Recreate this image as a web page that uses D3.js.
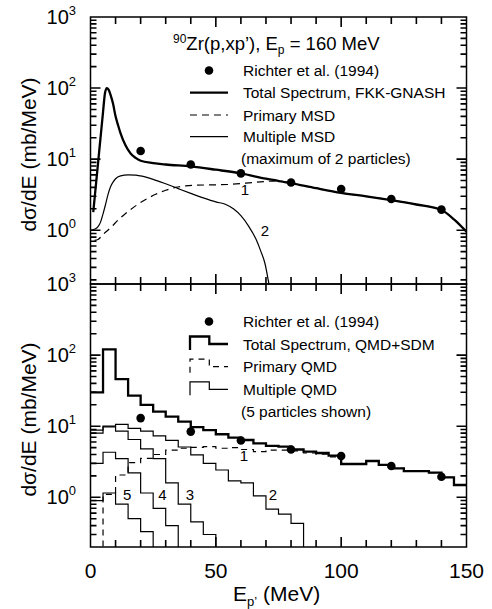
<!DOCTYPE html>
<html>
<head>
<meta charset="utf-8">
<script src="https://cdn.jsdelivr.net/npm/d3@7"></script>
<style>
body { margin: 0; background: #fff; }
text { font-family: "Liberation Sans", Arial, Helvetica, sans-serif; fill: #000; }
</style>
</head>
<body>
<div id="chart-area"></div>
<script>
// DATA (E in MeV, d-sigma/dE in mb/MeV)
var richterE = [20, 40, 60, 80, 100, 120, 140];
var richterXS = [13, 8.4, 6.3, 4.7, 3.8, 2.75, 1.95];

// upper panel: FKK-GNASH
var fkkTotalE = [1.1, 2, 3, 4, 5, 5.8, 6.5, 7.2, 8, 9, 10, 11, 12, 14, 16, 18, 20, 25, 30, 40, 50, 60, 70, 80, 90, 100, 110, 120, 130, 140, 145, 150];
var fkkTotal = [1.8, 3.8, 8.7, 20, 46, 86, 100, 95, 80, 60, 40, 30, 23, 15.5, 12, 10.4, 9.5, 8.8, 8.4, 7.9, 7.1, 6.3, 5.3, 4.6, 3.9, 3.35, 3.0, 2.65, 2.3, 1.92, 1.42, 0.95];

var fkkPrimaryE = [1.6, 3, 5, 8, 11, 14, 18, 22, 26, 30, 34, 38, 42, 50, 55, 62, 70, 75, 80, 90, 100, 110, 120, 130, 140, 145, 150];
var fkkPrimary = [0.72, 0.74, 0.87, 1.08, 1.39, 1.72, 2.2, 2.7, 3.2, 3.65, 4.0, 4.2, 4.3, 4.35, 4.4, 4.6, 4.85, 4.95, 4.6, 3.9, 3.35, 3.0, 2.65, 2.3, 1.92, 1.42, 0.95];

var fkkMultipleE = [0.3, 1.5, 3, 4, 5, 6, 7, 8, 9, 10, 12, 15, 18, 20, 25, 30, 35, 40, 45, 50, 54, 57, 60, 63, 66, 68, 69.6, 71, 72];
var fkkMultiple = [1.0, 1.03, 1.12, 1.3, 1.7, 2.3, 3.2, 4.1, 4.75, 5.3, 5.8, 6.0, 5.95, 5.8, 5.2, 4.5, 3.85, 3.3, 2.85, 2.5, 2.3, 2.0, 1.6, 1.15, 0.75, 0.5, 0.34, 0.19, 0.12];

// lower panel: QMD+SDM histograms, 5 MeV bins
var qmdBins = [0, 5, 10, 15, 20, 25, 30, 35, 40, 45, 50, 55, 60, 65, 70, 75, 80, 85, 90, 95, 100, 105, 110, 115, 120, 125, 130, 135, 140, 145];
var qmdTotal = [30, 120, 46, 27, 20, 16, 13.6, 11.6, 9.7, 8.8, 7.7, 6.9, 6.4, 5.75, 5.3, 5.15, 4.7, 4.4, 4.2, 3.85, 2.94, 2.94, 3.24, 2.85, 2.56, 2.34, 2.34, 2.22, 1.91, 1.49];
var qmdPrimary = [null, 1.1, 2.06, 3.07, 3.53, 4.0, 4.6, 4.9, 5.05, 5.15, 4.9, 5.0, 4.7, 4.4, 4.6, 4.6, 4.5, 4.2, 4.05, 3.7, 2.94, 2.94, 3.24, 2.85, 2.56, 2.34, 2.34, 2.22, 1.91, 1.49];
var qmdMult2 = [8, 10, 10.6, 9.3, 8.5, 7.3, 6.3, 5.1, 3.94, 3.0, 2.42, 1.7, 1.6, 1.05, 0.68, 0.58, 0.43];
var qmdMult3 = [8.8, 9.8, 8.5, 6.5, 4.8, 3.5, 1.6, 0.8, 0.45, 0.3];
var qmdMult4 = [3.0, 4.3, 3.5, 2.2, 1.15, 0.7, 0.4];
var qmdMult5 = [0.9, 1.15, 0.8, 0.5, 0.33];

// curve labels
var upperTags = [{ t: '1', e: 61.6, v: 3.75 }, { t: '2', e: 69.6, v: 1.0 }];
var lowerTags = [{ t: '1', e: 61.2, v: 3.9 }, { t: '2', e: 72.8, v: 1.1 }, { t: '3', e: 39.7, v: 1.08 },
                 { t: '4', e: 28.7, v: 1.08 }, { t: '5', e: 14.6, v: 1.08 }];

var xMinorTicks = [10, 20, 30, 40, 60, 70, 80, 90, 110, 120, 130, 140];
var xMajorTicks = [50, 100];
var xLabels = [0, 50, 100, 150];
var decades = [1, 10, 100, 1000];

//SETUP
var width = 376;
var upperHeight = 267;
var lowerHeight = 263;
var left = 90.5;
var upperTop = 17;
var lowerTop = 284;

var svg = d3.select('#chart-area')
	.append('svg')
	.attr('width', 492)
	.attr('height', 609);

var x = d3.scaleLinear().domain([0, 150]).range([0, width]);
var yUpper = d3.scaleLog().domain([0.175, 1000]).range([upperHeight, 0]);
var yLower = d3.scaleLog().domain([0.2, 1000]).range([lowerHeight, 0]);

var upper = svg.append('g').attr('transform', 'translate(' + left + ',' + upperTop + ')');
var lower = svg.append('g').attr('transform', 'translate(' + left + ',' + lowerTop + ')');

function minorLogTicks(y) {
	var out = [];
	var dom = y.domain();
	[0.1, 1, 10, 100].forEach(function (p) {
		for (var m = 2; m <= 9; m++) {
			var v = m * p;
			if (v > dom[0] * 1.01 && v < dom[1]) out.push(v);
		}
	});
	return out;
}

// inward ticks on all four sides as one path, in page coordinates
function tickPath(y, h, top) {
	var minor = minorLogTicks(y);
	var majors = decades.filter(function (d) { return d > y.domain()[0] && d < y.domain()[1]; });
	var p = d3.path();
	function seg(x1, y1, x2, y2) {
		p.moveTo(left + x1, top + y1);
		p.lineTo(left + x2, top + y2);
	}
	minor.forEach(function (v) { seg(0, y(v), 6, y(v)); seg(width, y(v), width - 6, y(v)); });
	majors.forEach(function (v) { seg(0, y(v), 10, y(v)); seg(width, y(v), width - 10, y(v)); });
	xMinorTicks.forEach(function (v) { seg(x(v), 0, x(v), 7); seg(x(v), h, x(v), h - 7); });
	xMajorTicks.forEach(function (v) { seg(x(v), 0, x(v), 10); seg(x(v), h, x(v), h - 10); });
	return p.toString();
}

function drawFrame(g, y, h, id) {
	g.append('clipPath').attr('id', id).append('rect').attr('width', width).attr('height', h);

	// decade labels 10^n
	decades.filter(function (d) { return d >= y.domain()[0]; }).forEach(function (d) {
		var t = g.append('text')
			.attr('x', 76 - left)
			.attr('y', y(d) + 7)
			.attr('text-anchor', 'end');
		t.append('tspan').attr('font-size', '20px').text('10');
		t.append('tspan').attr('font-size', '13px').attr('dy', -9).text(Math.round(Math.log10(d)));
	});

	// y title
	g.append('text')
		.attr('transform', 'translate(' + (35.5 - left) + ',' + (h / 2 + 4) + ') rotate(-90)')
		.attr('text-anchor', 'middle')
		.attr('font-size', '21px')
		.text('d\u03c3/dE (mb/MeV)');
}

drawFrame(upper, yUpper, upperHeight, 'clipUpper');
drawFrame(lower, yLower, lowerHeight, 'clipLower');

//UPPER PANEL CURVES
function pairs(es, vs) {
	return es.map(function (e, i) { return [e, vs[i]]; });
}

var smooth = d3.line()
	.x(function (d) { return x(d[0]); })
	.y(function (d) { return yUpper(d[1]); })
	.curve(d3.curveMonotoneX);

var upperPlot = upper.append('g').attr('clip-path', 'url(#clipUpper)');

upperPlot.append('path')
	.attr('d', smooth(pairs(fkkPrimaryE, fkkPrimary)))
	.attr('fill', 'none').attr('stroke', '#000').attr('stroke-width', 1.2)
	.attr('stroke-dasharray', '7,5');

upperPlot.append('path')
	.attr('d', smooth(pairs(fkkMultipleE, fkkMultiple)))
	.attr('fill', 'none').attr('stroke', '#000').attr('stroke-width', 1.2);

upperPlot.append('path')
	.attr('d', smooth(pairs(fkkTotalE, fkkTotal)))
	.attr('fill', 'none').attr('stroke', '#000').attr('stroke-width', 2.3);

upper.selectAll('circle.dot')
	.data(pairs(richterE, richterXS))
	.enter().append('circle')
	.attr('class', 'dot')
	.attr('cx', function (d) { return x(d[0]); })
	.attr('cy', function (d) { return yUpper(d[1]); })
	.attr('r', 4.3)
	.attr('fill', '#000');

upper.selectAll('text.tag')
	.data(upperTags)
	.enter().append('text')
	.attr('class', 'tag')
	.attr('x', function (d) { return x(d.e); })
	.attr('y', function (d) { return yUpper(d.v) + 5.5; })
	.attr('text-anchor', 'middle')
	.attr('font-size', '15px')
	.text(function (d) { return d.t; });

//LOWER PANEL HISTOGRAMS
function steps(vals) {
	var pts = vals.map(function (v, i) { return [qmdBins[i], v]; });
	if (vals.length === qmdBins.length) pts.push([150, vals[vals.length - 1]]);
	else pts.push([qmdBins[vals.length], null]);
	return pts;
}

var stepLine = d3.line()
	.x(function (d) { return x(d[0]); })
	.y(function (d) { return d[1] == null ? lowerHeight + 20 : yLower(d[1]); })
	.curve(d3.curveStepAfter);

var lowerPlot = lower.append('g').attr('clip-path', 'url(#clipLower)');

[qmdMult2, qmdMult3, qmdMult4, qmdMult5].forEach(function (s) {
	lowerPlot.append('path')
		.attr('d', stepLine(steps(s)))
		.attr('fill', 'none').attr('stroke', '#000').attr('stroke-width', 1.2);
});

lowerPlot.append('path')
	.attr('d', stepLine(steps(qmdPrimary)))
	.attr('fill', 'none').attr('stroke', '#000').attr('stroke-width', 1.2)
	.attr('stroke-dasharray', '6,5');

lowerPlot.append('path')
	.attr('d', stepLine(steps(qmdTotal)))
	.attr('fill', 'none').attr('stroke', '#000').attr('stroke-width', 2.3);

lower.selectAll('circle.dot')
	.data(pairs(richterE, richterXS))
	.enter().append('circle')
	.attr('class', 'dot')
	.attr('cx', function (d) { return x(d[0]); })
	.attr('cy', function (d) { return yLower(d[1]); })
	.attr('r', 4.3)
	.attr('fill', '#000');

lower.selectAll('text.tag')
	.data(lowerTags)
	.enter().append('text')
	.attr('class', 'tag')
	.attr('x', function (d) { return x(d.e); })
	.attr('y', function (d) { return yLower(d.v) + 5.5; })
	.attr('text-anchor', 'middle')
	.attr('font-size', '15px')
	.text(function (d) { return d.t; });

//FRAMES
[[upper, upperHeight], [lower, lowerHeight]].forEach(function (p) {
	p[0].append('rect')
		.attr('width', width).attr('height', p[1])
		.attr('fill', 'none').attr('stroke', '#000').attr('stroke-width', 1.5);
});

//X LABELS
lower.selectAll('text.xl')
	.data(xLabels)
	.enter().append('text')
	.attr('class', 'xl')
	.attr('x', function (d) { return x(d); })
	.attr('y', lowerHeight + 30.5)
	.attr('text-anchor', 'middle')
	.attr('font-size', '21px')
	.text(function (d) { return d; });

var xt = svg.append('text').attr('x', 233).attr('y', 601).attr('font-size', '21px');
xt.append('tspan').text('E');
xt.append('tspan').attr('font-size', '13px').attr('dy', 5).text('p\u2019');
xt.append('tspan').attr('dy', -5).text(' (MeV)');

//TITLE
var heading = svg.append('text').attr('x', 173).attr('y', 49.5).attr('font-size', '18.5px');
heading.append('tspan').attr('font-size', '12px').attr('dy', -7).text('90');
heading.append('tspan').attr('dy', 7).text('Zr(p,xp\u2019), E');
heading.append('tspan').attr('font-size', '12px').attr('dy', 4).text('p');
heading.append('tspan').attr('dy', -4).text(' = 160 MeV');

//LEGENDS
var lx0 = 190, lx1 = 228, ltx = 243;

function legendText(y, s, dx) {
	svg.append('text').attr('x', ltx + (dx || 0)).attr('y', y + 5.5).attr('font-size', '15.5px').text(s);
}

// upper
svg.append('circle').attr('cx', 209).attr('cy', 70.5).attr('r', 4.3).attr('fill', '#000');
legendText(70.5, 'Richter et al. (1994)');
svg.append('line').attr('x1', lx0).attr('x2', lx1).attr('y1', 92.7).attr('y2', 92.7)
	.attr('stroke', '#000').attr('stroke-width', 2.3);
legendText(92.7, 'Total Spectrum, FKK-GNASH');
svg.append('line').attr('x1', lx0).attr('x2', lx1).attr('y1', 115).attr('y2', 115)
	.attr('stroke', '#000').attr('stroke-width', 1.2).attr('stroke-dasharray', '7,5');
legendText(115, 'Primary MSD');
svg.append('line').attr('x1', lx0).attr('x2', lx1).attr('y1', 136.7).attr('y2', 136.7)
	.attr('stroke', '#000').attr('stroke-width', 1.2);
legendText(136.7, 'Multiple MSD');
legendText(158.3, '(maximum of 2 particles)', -2);

// lower
function stepSymbol(y, w, dash) {
	var p = svg.append('path')
		.attr('d', 'M' + lx0 + ',' + (y + 6) + 'V' + (y - 7.5) + 'H' + (lx0 + 19.3) + 'V' + y + 'H' + lx1)
		.attr('fill', 'none').attr('stroke', '#000').attr('stroke-width', w);
	if (dash) p.attr('stroke-dasharray', dash);
}
svg.append('circle').attr('cx', 209).attr('cy', 321.5).attr('r', 4.3).attr('fill', '#000');
legendText(321.7, 'Richter et al. (1994)');
stepSymbol(344, 2.3);
legendText(344, 'Total Spectrum, QMD+SDM');
stepSymbol(366.7, 1.2, '6,5');
legendText(366.7, 'Primary QMD');
stepSymbol(389.3, 1.2);
legendText(389.3, 'Multiple QMD');
legendText(411.7, '(5 particles shown)', -2);

//TICKS (drawn last, on top)
svg.append('path')
	.attr('d', tickPath(yUpper, upperHeight, upperTop) + tickPath(yLower, lowerHeight, lowerTop))
	.attr('fill', 'none')
	.attr('stroke', '#000')
	.attr('stroke-width', 1.6);
</script>
</body>
</html>
